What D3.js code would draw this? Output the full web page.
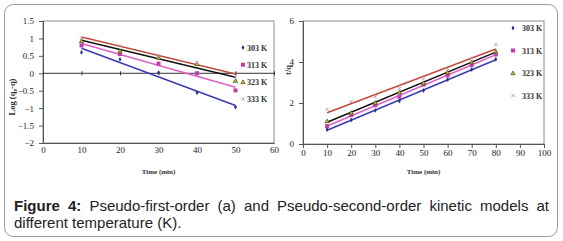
<!DOCTYPE html>
<html>
<head>
<meta charset="utf-8">
<script src="https://cdn.jsdelivr.net/npm/d3@7"></script>
<style>
  body { margin: 0; background: #fff; }
  #fig { position: relative; width: 563px; height: 241px; }
  #caption {
    position: absolute; left: 14px; top: 197px; width: 535px;
    font-family: "Liberation Sans", Arial, sans-serif; font-size: 15px;
    line-height: 17px; text-align: justify; color: #222;
  }
</style>
</head>
<body>
<div id="fig"></div>
<script>
// temperatures (legend)
var temps = ["303 K", "313 K", "323 K", "333 K"];

// pseudo-first-order (a): log(qe-q) vs time
var timeA = [10, 20, 30, 40, 50];
var pfo303 = [0.6, 0.4, 0.02, -0.56, -0.97];
var pfo313 = [0.8, 0.55, 0.28, 0.0, -0.49];
var pfo323 = [0.93, 0.64, 0.45, 0.27, -0.21];
var pfo333 = [1.02, 0.79, 0.5, 0.31, -0.07];

// pseudo-second-order (b): t/q vs time
var timeB = [10, 20, 30, 40, 50, 60, 70, 80];
var pso303 = [0.71, 1.17, 1.64, 2.1, 2.61, 3.14, 3.63, 4.13];
var pso313 = [0.87, 1.41, 1.89, 2.3, 2.9, 3.34, 3.85, 4.37];
var pso323 = [1.12, 1.53, 2.02, 2.52, 2.98, 3.5, 4.0, 4.52];
var pso333 = [1.69, 2.06, 2.3, 2.71, 3.17, 3.67, 4.19, 4.85];

// tick values
var ticksAx = [0, 10, 20, 30, 40, 50, 60];
var ticksAy = [-2, -1.5, -1, -0.5, 0, 0.5, 1, 1.5];
var ticksBx = [0, 10, 20, 30, 40, 50, 60, 70, 80, 90, 100];
var ticksBy = [0, 2, 4, 6];

// marker / line styles per series
var markColor = ["#2e2e8f", "#c43ca8", "#8a8a1e", "#b890b8"];
var lineColor = ["#3a3ab4", "#e060c8", "#111111", "#c24a3a"];
var markShape = ["diamond", "square", "triangle", "cross"];

var serif = "'Liberation Serif', 'Times New Roman', serif";

var svg = d3.select("#fig").append("svg")
  .attr("width", 563).attr("height", 241)
  .style("position", "absolute").style("left", 0).style("top", 0);

// outer rounded frame
svg.append("rect")
  .attr("x", 4.5).attr("y", 4.5).attr("width", 553).attr("height", 232)
  .attr("rx", 9).attr("fill", "none").attr("stroke", "#9a9a9a");

function fit(xs, ys) {
  var n = xs.length, mx = d3.mean(xs), my = d3.mean(ys), sxy = 0, sxx = 0;
  for (var i = 0; i < n; i++) { sxy += (xs[i]-mx)*(ys[i]-my); sxx += (xs[i]-mx)*(xs[i]-mx); }
  var b = sxy / sxx;
  return function(x) { return my + b*(x-mx); };
}

function marker(g, shape, cx, cy, col) {
  if (shape === "diamond") {
    g.append("path").attr("d", d3.symbol(d3.symbolDiamond, 7)())
      .attr("transform", "translate(" + cx + "," + cy + ")").attr("fill", col);
  } else if (shape === "square") {
    g.append("rect").attr("x", cx-2).attr("y", cy-2).attr("width", 4).attr("height", 4).attr("fill", col);
  } else if (shape === "triangle") {
    g.append("path").attr("d", d3.symbol(d3.symbolTriangle, 8)())
      .attr("transform", "translate(" + cx + "," + (cy+0.5) + ")")
      .attr("fill", "#c8b832").attr("stroke", "#4a4a10").attr("stroke-width", 0.7);
  } else {
    g.append("path").attr("d", d3.symbol(d3.symbolX, 8)())
      .attr("transform", "translate(" + cx + "," + cy + ")")
      .attr("fill", "none").attr("stroke", col).attr("stroke-width", 0.9);
  }
}

function drawPanel(o) {
  var g = svg.append("g");
  var x = d3.scaleLinear().domain(o.xd).range([o.left, o.right]);
  var y = d3.scaleLinear().domain(o.yd).range([o.bottom, o.top]);

  // plot area box
  g.append("rect").attr("x", o.left).attr("y", o.top)
    .attr("width", o.right - o.left).attr("height", o.bottom - o.top)
    .attr("fill", "none").attr("stroke", "#8c8c8c");

  // y axis
  var ya = g.append("g").attr("transform", "translate(" + o.left + ",0)")
    .call(d3.axisLeft(y).tickValues(o.yt).tickSize(4).tickPadding(5)
      .tickFormat(function(d) { return d3.format("")(d); }));
  ya.selectAll("text").attr("font-family", serif).attr("font-size", 9).attr("fill", "#222");
  ya.selectAll("path,line").attr("stroke", "#555");

  // x labels at the bottom
  var xa = g.append("g").attr("transform", "translate(0," + o.bottom + ")")
    .call(d3.axisBottom(x).tickValues(o.xt).tickSize(o.zeroLine ? 0 : 4).tickPadding(o.zeroLine ? 4 : 2));
  xa.selectAll("text").attr("font-family", serif).attr("font-size", 9).attr("fill", "#222");
  xa.selectAll("path,line").attr("stroke", "#555");

  if (o.zeroLine) {
    // horizontal axis crossing at y = 0
    var za = g.append("g").attr("transform", "translate(0," + y(0) + ")")
      .call(d3.axisBottom(x).tickValues(o.xt).tickSize(4).tickFormat(""));
    za.selectAll("path,line").attr("stroke", "#333");
    za.select("path").attr("d", "M" + o.left + ",0H" + o.right);
    za.selectAll(".tick line").attr("y1", -2).attr("y2", 2);
  }

  // trend lines and points
  o.series.forEach(function(s, i) {
    var f = fit(o.xs, s);
    g.append("line")
      .attr("x1", x(o.xs[0])).attr("y1", y(f(o.xs[0])))
      .attr("x2", x(o.xs[o.xs.length-1])).attr("y2", y(f(o.xs[o.xs.length-1])))
      .attr("stroke", lineColor[i]).attr("stroke-width", 1.5);
  });
  o.series.forEach(function(s, i) {
    s.forEach(function(v, j) { marker(g, markShape[i], x(o.xs[j]), y(v), markColor[i]); });
  });

  // legend
  temps.forEach(function(t, i) {
    var ly = o.legY + i*o.legStep;
    marker(g, markShape[i], o.legX, ly, markColor[i]);
    g.append("text").attr("x", o.legX + o.legGap).attr("y", ly + 3)
      .attr("font-family", serif).attr("font-size", 8).attr("font-weight", "bold")
      .attr("fill", "#333").text(t);
  });

  // axis titles
  g.append("text").attr("x", (o.left + o.right)/2).attr("y", 174)
    .attr("text-anchor", "middle").attr("font-family", serif).attr("font-size", 7)
    .attr("font-weight", "bold").attr("fill", "#333").text("Time (min)");
  var yt = g.append("text")
    .attr("transform", "translate(" + o.ytX + "," + o.ytY + ") rotate(-90)")
    .attr("text-anchor", "middle").attr("font-family", serif).attr("font-size", 8.5)
    .attr("font-weight", "bold").attr("fill", "#333");
  o.yTitle(yt);
}

drawPanel({
  left: 43, right: 274, top: 21, bottom: 143,
  xd: [0, 60], yd: [-2, 1.5], xt: ticksAx, yt: ticksAy, zeroLine: true,
  xs: timeA, series: [pfo303, pfo313, pfo323, pfo333],
  legX: 243, legY: 47.5, legStep: 17.2, legGap: 4,
  ytX: 15, ytY: 97,
  yTitle: function(t) {
    t.append("tspan").text("Log (q");
    t.append("tspan").attr("font-size", 6).attr("dy", 2).text("e");
    t.append("tspan").attr("dy", -2).text("-q)");
  }
});

drawPanel({
  left: 303, right: 544, top: 21, bottom: 144,
  xd: [0, 100], yd: [0, 6], xt: ticksBx, yt: ticksBy, zeroLine: false,
  xs: timeB, series: [pso303, pso313, pso323, pso333],
  legX: 513, legY: 28, legStep: 22.5, legGap: 9,
  ytX: 291, ytY: 70,
  yTitle: function(t) { t.text("t/q"); }
});

// caption
d3.select("#fig").append("div").attr("id", "caption")
  .html("<b>Figure 4:</b> Pseudo-first-order (a) and Pseudo-second-order kinetic models at different temperature (K).");
</script>
</body>
</html>
